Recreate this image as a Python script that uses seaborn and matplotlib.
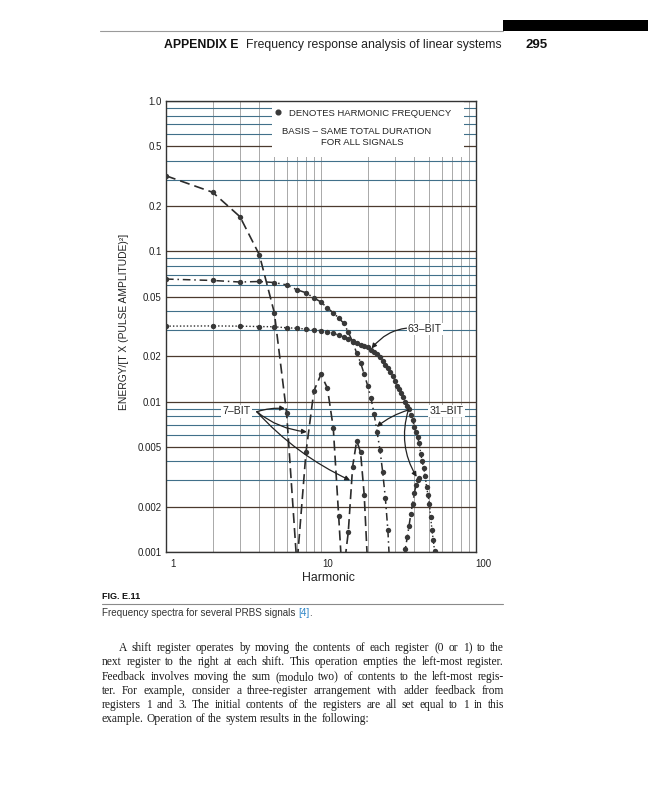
import math
import numpy as np
import pandas as pd
import matplotlib
matplotlib.use('Agg')
import matplotlib.pyplot as plt
import matplotlib.transforms as mtransforms
import seaborn as sns
from matplotlib.patches import Rectangle
from matplotlib.lines import Line2D
from matplotlib.font_manager import FontProperties
from matplotlib.ticker import FixedLocator, FixedFormatter, LogLocator, NullFormatter

# ---------------------------------------------------------------
# values (harmonic number, energy)
# ---------------------------------------------------------------
# 7-bit PRBS, harmonic dots
h7 = [1, 2, 3, 4, 5, 6, 8, 9, 10, 11, 12, 13, 15, 16, 17, 18, 19]
e7 = [0.318, 0.247, 0.170, 0.095, 0.039, 0.0084, 0.0046, 0.0118, 0.0152, 0.0123,
      0.0067, 0.00174, 0.00136, 0.0037, 0.0055, 0.0046, 0.0024]
# where the dashed 7-bit lobes leave the bottom of the chart
h7_ends = [6.95, 7.05, 13.5, 14.3, 19.9]
lobe7_ends = [1, 2, 2, 3, 3]

# 31-bit PRBS
h31 = list(range(1, 28)) + list(range(35, 44))
e31 = [0.0654, 0.064, 0.0625, 0.063, 0.062, 0.0598, 0.0555, 0.053, 0.049, 0.046,
       0.042, 0.039, 0.036, 0.0333, 0.029, 0.025, 0.021, 0.0182, 0.0152, 0.0128,
       0.0106, 0.0083, 0.0063, 0.0048, 0.0034, 0.0023, 0.0014,
       0.00105, 0.00125, 0.0015, 0.0018, 0.0021, 0.00245, 0.0028, 0.0030, 0.0031]
h31_ends = [27.6, 34.6]
lobe31_ends = [1, 2]

# 63-bit PRBS
h63 = list(range(1, 55))
e63 = [0.0318, 0.0319, 0.0318, 0.0316, 0.0315, 0.0310, 0.0308, 0.0304, 0.0300, 0.0297,
       0.0290, 0.0285, 0.0277, 0.0270, 0.0263, 0.0255, 0.0246, 0.0238, 0.0234, 0.0230,
       0.0222, 0.0215, 0.0209, 0.0197, 0.0186, 0.0176, 0.0167, 0.0158, 0.0148, 0.0138,
       0.0128, 0.0121, 0.0114, 0.0107, 0.0100, 0.0094, 0.0089, 0.0082, 0.0075, 0.0068,
       0.0063, 0.0058, 0.0053, 0.0045, 0.0040, 0.0036, 0.0032, 0.0027, 0.0024, 0.0021,
       0.0017, 0.0014, 0.0012, 0.00102]
h63_ends = [54.6]

y_ticks = [1.0, 0.5, 0.2, 0.1, 0.05, 0.02, 0.01, 0.005, 0.002, 0.001]
y_labels = ['1.0', '0.5', '0.2', '0.1', '0.05', '0.02', '0.01', '0.005', '0.002', '0.001']
x_ticks = [1, 10, 100]
x_labels = ['1', '10', '100']

BODY = [
    "A shift register operates by moving the contents of each register (0 or 1) to the",
    "next register to the right at each shift. This operation empties the left-most register.",
    "Feedback involves moving the sum (modulo two) of contents to the left-most regis-",
    "ter. For example, consider a three-register arrangement with adder feedback from",
    "registers 1 and 3. The initial contents of the registers are all set equal to 1 in this",
    "example. Operation of the system results in the following:",
]

# ---------------------------------------------------------------
# tables for seaborn
# ---------------------------------------------------------------
d7 = pd.DataFrame({'h': h7, 'e': e7})
d7['lobe'] = np.where(d7.h < 7, 1, np.where(d7.h < 14, 2, 3))
c7 = pd.concat([d7, pd.DataFrame({'h': h7_ends, 'e': 0.0009, 'lobe': lobe7_ends})]).sort_values('h')

d31 = pd.DataFrame({'h': h31, 'e': e31})
d31['lobe'] = np.where(d31.h < 30, 1, 2)
c31 = pd.concat([d31, pd.DataFrame({'h': h31_ends, 'e': 0.0009, 'lobe': lobe31_ends})]).sort_values('h')

d63 = pd.DataFrame({'h': h63, 'e': e63})
d63['lobe'] = 1
c63 = pd.concat([d63, pd.DataFrame({'h': h63_ends, 'e': 0.0009, 'lobe': 1})]).sort_values('h')

sns.set_theme(style='white')
plt.rcParams['font.family'] = ['Liberation Sans', 'DejaVu Sans']
SANS = 'Liberation Sans'
SERIF = 'Liberation Serif'

W, H = 648, 800
def fx(px):
    return px / W
def fy(py):
    return 1 - py / H

fig = plt.figure(figsize=(6.48, 8), dpi=100)
fig.patch.set_facecolor('white')
renderer = fig.canvas.get_renderer()
ax = fig.add_axes([fx(166), fy(552), 310 / W, 451 / H])

INK = '#2b2b2b'
sns.lineplot(data=c7, x='h', y='e', units='lobe', estimator=None, ax=ax, color=INK,
             lw=1.2, linestyle=(0, (6, 3)), zorder=3)
sns.lineplot(data=c31, x='h', y='e', units='lobe', estimator=None, ax=ax, color=INK,
             lw=1.1, linestyle=(0, (5, 2.5, 1, 2.5)), zorder=3)
sns.lineplot(data=c63, x='h', y='e', units='lobe', estimator=None, ax=ax, color=INK,
             lw=1.0, linestyle=(0, (1, 1.5)), zorder=3)
for d in (d7, d31, d63):
    sns.scatterplot(data=d, x='h', y='e', ax=ax, color='#383838', s=15, linewidth=0, zorder=4)

ax.set_xscale('log')
ax.set_yscale('log')
ax.set_xlim(1, 100)
ax.set_ylim(0.001, 1.0)
ax.yaxis.set_major_locator(FixedLocator(y_ticks))
ax.yaxis.set_major_formatter(FixedFormatter(y_labels))
ax.yaxis.set_minor_locator(LogLocator(base=10, subs=[3, 4, 6, 7, 8, 9], numticks=20))
ax.yaxis.set_minor_formatter(NullFormatter())
ax.xaxis.set_major_locator(FixedLocator(x_ticks))
ax.xaxis.set_major_formatter(FixedFormatter(x_labels))
ax.xaxis.set_minor_locator(LogLocator(base=10, subs=np.arange(2, 10), numticks=20))
ax.xaxis.set_minor_formatter(NullFormatter())
ax.tick_params(which='both', length=0, labelsize=7, colors='#222222')
ax.tick_params(axis='y', pad=3)
ax.tick_params(axis='x', pad=5)
ax.set_axisbelow(True)
ax.grid(which='major', axis='y', color='#4b3a2e', lw=0.9)
ax.grid(which='minor', axis='y', color='#41708a', lw=0.8)
ax.grid(which='both', axis='x', color='#9b9b9b', lw=0.6)
for s in ax.spines.values():
    s.set_color('#333333')
    s.set_linewidth(1.0)

offset = mtransforms.ScaledTranslation(7 / 100, 0, fig.dpi_scale_trans)
for lbl in ax.get_xticklabels():
    lbl.set_transform(lbl.get_transform() + offset)

ax.set_ylabel('ENERGY/[T X (PULSE AMPLITUDE)²]', fontsize=7.4, va='center', color='#222222')
ax.yaxis.set_label_coords(-0.1355, 0.511)
ax.set_xlabel('Harmonic', fontsize=8.8, va='center', color='#222222')
ax.xaxis.set_label_coords(0.523, -0.058)

# white note box in the upper part of the grid
ax.add_patch(Rectangle((0.342, 0.876), 0.62, 0.124, transform=ax.transAxes,
                       facecolor='white', edgecolor='none', zorder=1.5))
dot = Line2D([], [], marker='o', ls='', color='#383838', markersize=3.4)
ax.legend(handles=[dot], labels=['DENOTES HARMONIC FREQUENCY'], loc='center left',
          bbox_to_anchor=(0.348, 0.973), frameon=False, fontsize=6.8, borderpad=0,
          borderaxespad=0, handlelength=0.8, handletextpad=0.8)
ax.text(0.615, 0.933, 'BASIS – SAME TOTAL DURATION', transform=ax.transAxes,
        ha='center', va='center', fontsize=6.8, color='#222222', zorder=5)
ax.text(0.632, 0.907, 'FOR ALL SIGNALS', transform=ax.transAxes,
        ha='center', va='center', fontsize=6.8, color='#222222', zorder=5)

# curve labels
arrow = dict(arrowstyle='-|>', color='#222222', lw=0.9, mutation_scale=7, shrinkA=0, shrinkB=0)
box = dict(fc='white', ec='none', pad=1.0)
ax.annotate('63–BIT', xy=(21.2, 0.0226), xytext=(46.9, 0.0304), ha='center', va='center',
            fontsize=7.6, bbox=box, zorder=6,
            arrowprops=dict(arrow, connectionstyle='arc3,rad=0.3'))
ax.text(2.87, 0.00865, '7–BIT', ha='center', va='center', fontsize=7.6, bbox=box, zorder=6)
for tip, rad in [((5.86, 0.0090), -0.1), ((8.1, 0.0063), 0.15), ((15.4, 0.0030), 0.1)]:
    ax.annotate('', xy=tip, xytext=(3.85, 0.00857), zorder=6,
                arrowprops=dict(arrow, connectionstyle='arc3,rad=%s' % rad))
ax.text(64.7, 0.00866, '31–BIT', ha='center', va='center', fontsize=7.6, bbox=box, zorder=6)
for tip, rad in [((22.9, 0.0068), 0.1), ((41.4, 0.00316), 0.22)]:
    ax.annotate('', xy=tip, xytext=(36.6, 0.0088), zorder=6,
                arrowprops=dict(arrow, connectionstyle='arc3,rad=%s' % rad))

# ---------------------------------------------------------------
# page furniture: running head, caption and body text
# ---------------------------------------------------------------
def text_wd(s, size, family, weight='normal'):
    prop = FontProperties(family=family, size=size, weight=weight)
    w, h, d = renderer.get_text_width_height_descent(s, prop, ismath=False)
    return w, d

def text_w(s, size, family, weight='normal'):
    return text_wd(s, size, family, weight)[0]

def fit_text(x0, x1, y, s, weight='normal', **kw):
    size = 10 * (x1 - x0) / text_w(s, 10, SANS, weight)
    return fig.text(fx(x0), fy(y), s, va='baseline', family=SANS, weight=weight,
                    fontsize=size, **kw)

fig.patches.append(Rectangle((fx(503), fy(31)), 1 - fx(503), 11 / H, transform=fig.transFigure,
                             facecolor='black', edgecolor='none'))
fig.add_artist(Line2D([fx(100), fx(503)], [fy(30.5), fy(30.5)], color='#9a9a9a', lw=0.8))
fit_text(164, 238, 48, 'APPENDIX E', weight='bold', color='#111111')
fit_text(246, 503, 48, 'Frequency response analysis of linear systems', color='#222222')
fit_text(526, 548, 48, '295', weight='bold', color='#111111')

fit_text(102, 140, 599, 'FIG. E.11', weight='bold', color='#111111')
fig.add_artist(Line2D([fx(102), fx(503)], [fy(604), fy(604)], color='#8a8a8a', lw=0.8))
cap_main = 'Frequency spectra for several PRBS signals '
cap_size = 10 * (312.7 - 102) / text_w(cap_main + '[4].', 10, SANS)
fig.text(fx(102), fy(616), cap_main, va='baseline', family=SANS, fontsize=cap_size,
         color='#333333')
x_ref = 102 + text_w(cap_main, cap_size, SANS)
fig.text(fx(x_ref), fy(616), '[4]', va='baseline', family=SANS, fontsize=cap_size,
         color='#2f86c8')
fig.text(fx(x_ref + text_w('[4]', cap_size, SANS)), fy(616), '.', va='baseline',
         family=SANS, fontsize=cap_size, color='#333333')

# body paragraph, justified word by word; each word's baseline is nudged by its
# fractional descent so that all words of a line land on the same pixel row
BODY_SIZE = 8.3
for i, line in enumerate(BODY):
    x0 = 119 if i == 0 else 102
    y = round(651 + 14.25 * i)
    words = line.split(' ')
    metrics = [text_wd(w, BODY_SIZE, SERIF) for w in words]
    widths = [m[0] for m in metrics]
    if i == len(BODY) - 1:
        gap = 0.25 * BODY_SIZE * 100 / 72
    else:
        gap = max((504 - x0 - sum(widths)) / (len(words) - 1), 1.5)
    x = x0
    for w, (wd, dsc) in zip(words, metrics):
        yw = y + math.ceil(dsc) - dsc
        fig.text(fx(x), (H - yw) / H, w, fontsize=BODY_SIZE, family=SERIF, va='baseline',
                 color='#1a1a1a')
        x += wd + gap

fig.savefig('out.png', dpi=100, facecolor='white')
